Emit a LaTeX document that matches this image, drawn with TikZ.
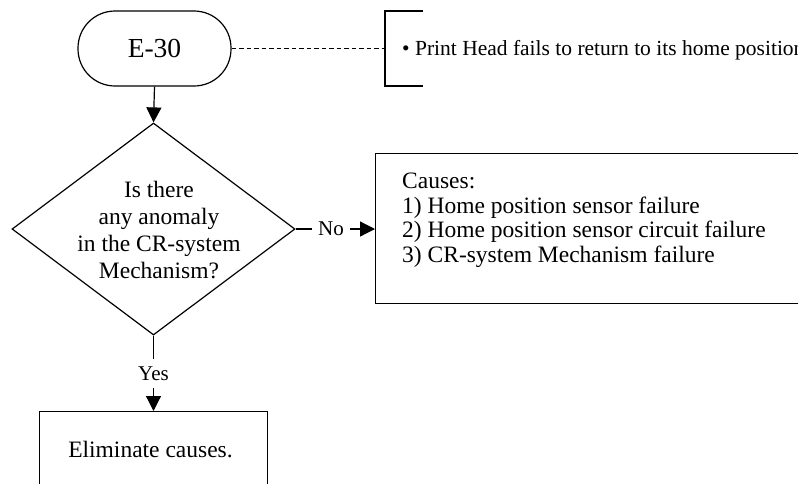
\documentclass[tikz,border=0pt]{standalone}
\usepackage{fontspec}
\setmainfont{Liberation Serif}
\usetikzlibrary{arrows.meta,shapes.geometric}
\begin{document}
\begin{tikzpicture}[x=1pt,y=-1pt,
  ln/.style={line width=1.2pt},
  arr/.style={ln,-{Triangle[length=15pt,width=15pt]}},
  dashln/.style={line width=0.8pt,dash pattern=on 4.5pt off 3pt},
  body/.style={font=\fontsize{23.5}{26.7}\selectfont},
  lbl/.style={font=\fontsize{21}{23}\selectfont,fill=white},
  term/.style={draw,ln,rounded corners=37pt,minimum width=153pt,minimum height=75pt,inner sep=0pt,font=\fontsize{27.5}{30}\selectfont},
  boxn/.style={draw,ln,anchor=north west,inner sep=0pt}]
\useasboundingbox (0,0) rectangle (798,483);
\clip (0,0) rectangle (798,483);
\fill[white] (0,0) rectangle (798,483);

% start terminal
\node[term] (e30) at (154.5,48.5) {E-30};

% annotation bracket
\coordinate (brk) at (385,48.5);
\coordinate (brkT) at (423,11);
\coordinate (brkB) at (423,86);
\draw[dashln] (e30.east) -- (brk);
\draw[ln] (brkT) -| (brk) |- (brkB);
\node[anchor=base west,inner sep=0pt,font=\fontsize{21.5}{24}\selectfont] (ph) at (402,55)
  {\textbullet\ Print Head fails to return to its home position};

% decision
\node[diamond,draw,ln,minimum width=283pt,minimum height=212pt,inner sep=0pt] (q) at (153.5,229) {};
\node[body,align=center,inner sep=0pt] (qt) at (159,230)
  {Is there\\any anomaly\\in the CR-system\\Mechanism?};
\draw[arr] (e30.south) -- (q.north);

% causes box
\node[boxn,minimum width=445pt,minimum height=150pt] (causes) at (375,153) {};
\node[anchor=north west,align=left,inner sep=0pt,font=\fontsize{23.5}{24.5}\selectfont] (ct) at (402,173)
  {Causes:\\1) Home position sensor failure\\2) Home position sensor circuit failure\\3) CR-system Mechanism failure};
\draw[arr] (q.east) -- node[lbl,pos=0.445,inner xsep=6pt,inner ysep=2pt] (no) {No} (q.east -| causes.west);

% eliminate box
\node[boxn,minimum width=228pt,minimum height=100pt] (elim) at (39,411) {};
\node[body,anchor=base,inner sep=0pt] (et) at (150.5,457) {Eliminate causes.};
\draw[arr] (q.south) -- node[lbl,inner xsep=2pt,inner ysep=7.5pt] (yes) {Yes} (q.south |- elim.north);
\end{tikzpicture}
\end{document}
